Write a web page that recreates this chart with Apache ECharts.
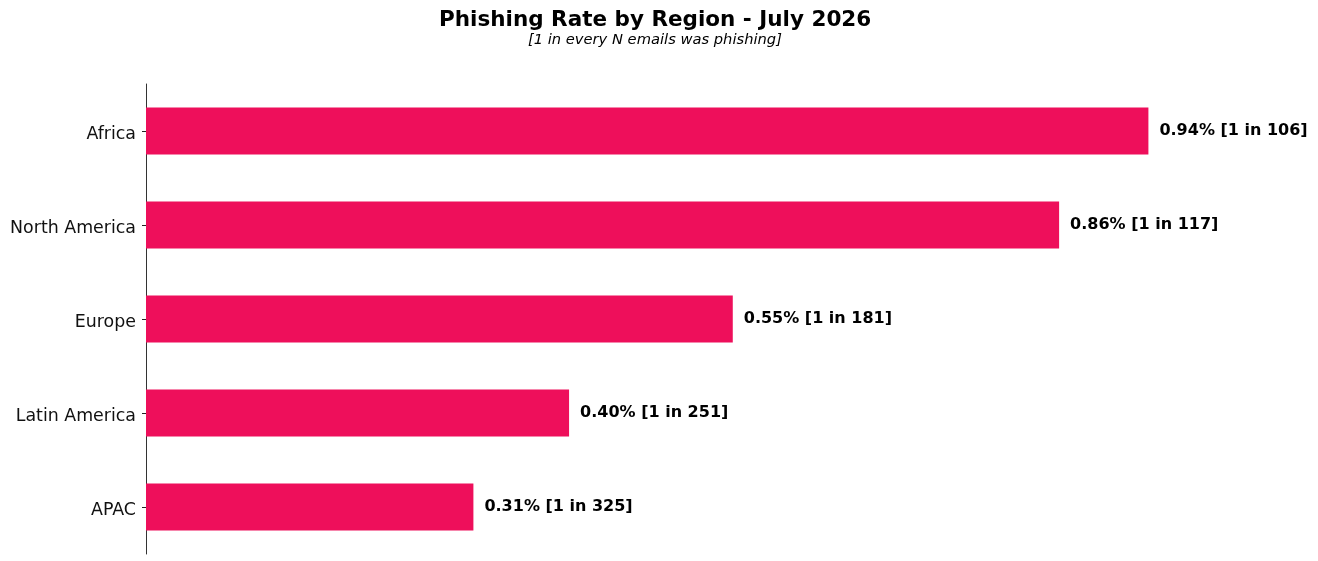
<!DOCTYPE html>
<html>
<head>
<meta charset="utf-8">
<script src="https://cdn.jsdelivr.net/npm/echarts@6/dist/echarts.min.js"></script>
<style>
  html, body { margin: 0; padding: 0; background: #fff; }
  #chart { width: 1318px; height: 561px; }
</style>
</head>
<body>
<div id="chart"></div>
<script>
const regions = ['Africa', 'North America', 'Europe', 'Latin America', 'APAC'];
const rates = [0.943, 0.859, 0.552, 0.398, 0.308];
const oneIn = [106, 117, 181, 251, 325];

const chart = echarts.init(document.getElementById('chart'));

const option = {
  animation: false,
  textStyle: { fontFamily: 'DejaVu Sans' },
  title: [{
    text: 'Phishing Rate by Region - July 2026',
    left: 434,
    top: 4,
    textStyle: { fontSize: 21.5, fontWeight: 'bold', color: '#000', fontFamily: 'DejaVu Sans' }
  }, {
    text: '[1 in every N emails was phishing]',
    left: 523,
    top: 28,
    textStyle: { fontSize: 14.7, fontWeight: 'normal', fontStyle: 'italic', color: '#000', fontFamily: 'DejaVu Sans' }
  }],
  grid: { left: 146, top: 84, height: 470, width: 1063 },
  xAxis: {
    type: 'value',
    min: 0,
    max: 1.0,
    show: false
  },
  yAxis: {
    type: 'category',
    data: regions,
    inverse: true,
    axisLine: { lineStyle: { color: '#333', width: 1 } },
    axisTick: { show: true, alignWithLabel: true, length: 4, lineStyle: { color: '#222', width: 1 } },
    axisLabel: {
      margin: 10,
      formatter: v => '{a|' + v + '}',
      rich: {
        a: { fontSize: 17.4, color: '#111', padding: [6, 0, 0, 0], fontFamily: 'DejaVu Sans' }
      }
    }
  },
  series: [{
    type: 'bar',
    data: rates,
    barWidth: '50%',
    itemStyle: { color: '#EE0F5B' },
    label: {
      show: true,
      position: 'right',
      distance: 11,
      fontSize: 16,
      fontWeight: 'bold',
      color: '#000',
      fontFamily: 'DejaVu Sans',
      formatter: p => p.value.toFixed(2) + '% [1 in ' + oneIn[p.dataIndex] + ']'
    }
  }]
};

chart.setOption(option);
</script>
</body>
</html>
